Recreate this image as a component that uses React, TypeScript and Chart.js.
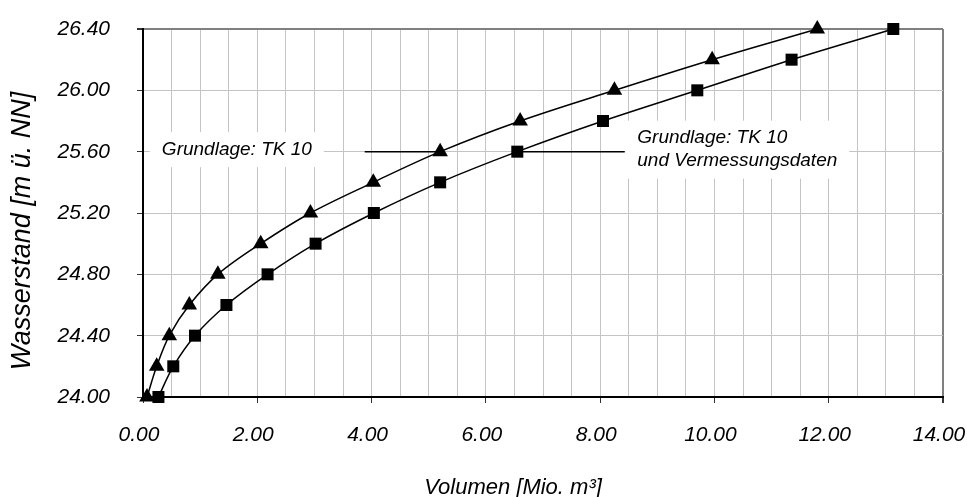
import React, { useEffect, useRef } from 'react';
import { Chart, registerables } from 'chart.js';

Chart.register(...registerables);

// ---- data ----
const waterLevels = [24.0, 24.2, 24.4, 24.6, 24.8, 25.0, 25.2, 25.4, 25.6, 25.8, 26.0, 26.2, 26.4];
const volumeTK10 = [0.07, 0.24, 0.46, 0.81, 1.31, 2.06, 2.93, 4.03, 5.2, 6.6, 8.25, 9.96, 11.8];
const volumeTK10Survey = [0.27, 0.53, 0.91, 1.46, 2.18, 3.02, 4.04, 5.2, 6.55, 8.05, 9.7, 11.35, 13.13];

const seriesNames = ['Grundlage: TK 10', 'Grundlage: TK 10 und Vermessungsdaten'];

const xMin = 0;
const xMax = 14;
const xGridStep = 0.5;
const xLabelStep = 2;
const yMin = 24.0;
const yMax = 26.4;
const yStep = 0.4;

const xTitle = 'Volumen [Mio. m³]';
const yTitle = 'Wasserstand [m ü. NN]';

const annotationTexts = [['Grundlage: TK 10'], ['Grundlage: TK 10', 'und Vermessungsdaten']];
const annotationTextX = [0.33, 8.65];
const annotationLevel = [25.6, 25.6];
const annotationLineFrom = [3.88, 6.55];
const annotationLineTo = [5.2, 8.43];

const FONT = '"Liberation Sans", Arial, sans-serif';

const overlayPlugin = {
  id: 'overlay',
  beforeDatasetsDraw(chart: any) {
    const { ctx } = chart;
    const xs = chart.scales.x;
    const ys = chart.scales.y;
    ctx.save();
    ctx.font = `italic 19px ${FONT}`;
    ctx.textBaseline = 'middle';
    ctx.textAlign = 'left';
    annotationTexts.forEach((lines, i) => {
      const lh = 23;
      const px = xs.getPixelForValue(annotationTextX[i]);
      const py = ys.getPixelForValue(annotationLevel[i]);
      const w = Math.max(...lines.map((l) => ctx.measureText(l).width));
      const h = lines.length * lh;
      const top = py - h / 2 - 2;
      ctx.fillStyle = '#ffffff';
      ctx.fillRect(px - 12, top - 6, w + 24, h + 12);
      ctx.fillStyle = '#000000';
      lines.forEach((l, j) => ctx.fillText(l, px, top + lh * (j + 0.5)));
      ctx.beginPath();
      ctx.moveTo(xs.getPixelForValue(annotationLineFrom[i]), py);
      ctx.lineTo(xs.getPixelForValue(annotationLineTo[i]), py);
      ctx.lineWidth = 1.5;
      ctx.strokeStyle = '#000000';
      ctx.stroke();
    });
    ctx.restore();
  },
  afterDraw(chart: any) {
    const { ctx, chartArea } = chart;
    ctx.save();
    ctx.fillStyle = '#000000';
    ctx.textAlign = 'center';
    ctx.textBaseline = 'middle';
    ctx.font = `italic 22px ${FONT}`;
    ctx.fillText(xTitle, (chartArea.left + chartArea.right) / 2 - 30, chart.height - 9);
    ctx.translate(22, (chartArea.top + chartArea.bottom) / 2 + 18);
    ctx.rotate(-Math.PI / 2);
    ctx.font = `italic 27px ${FONT}`;
    ctx.fillText(yTitle, 0, 0);
    ctx.restore();
  },
};

export default function App() {
  const ref = useRef<HTMLCanvasElement | null>(null);

  useEffect(() => {
    document.body.style.margin = '0';
    const canvas = ref.current;
    if (!canvas) return;
    const tickFont = { family: FONT, size: 21, style: 'italic' as const };
    const chart = new Chart(canvas, {
      type: 'line',
      data: {
        datasets: [
          {
            label: seriesNames[0],
            data: volumeTK10.map((v, i) => ({ x: v, y: waterLevels[i] })),
            borderColor: '#000',
            backgroundColor: '#000',
            borderWidth: 1.5,
            tension: 0.35,
            pointStyle: 'triangle',
            pointRadius: 9,
            pointBorderWidth: 0,
            clip: false as any,
          },
          {
            label: seriesNames[1],
            data: volumeTK10Survey.map((v, i) => ({ x: v, y: waterLevels[i] })),
            borderColor: '#000',
            backgroundColor: '#000',
            borderWidth: 1.5,
            tension: 0.35,
            pointStyle: 'rect',
            pointRadius: 8.5,
            pointBorderWidth: 0,
            clip: false as any,
          },
        ],
      },
      options: {
        animation: false,
        responsive: false,
        layout: { padding: { top: 29, right: 24, left: 0, bottom: 0 } },
        plugins: { legend: { display: false }, tooltip: { enabled: false } },
        scales: {
          x: {
            type: 'linear',
            min: xMin,
            max: xMax,
            ticks: {
              stepSize: xGridStep,
              autoSkip: false,
              maxRotation: 0,
              padding: 20,
              labelOffset: -4,
              color: '#000',
              font: tickFont,
              callback: (v: any) => (Math.abs(Number(v) % xLabelStep) < 1e-6 ? Number(v).toFixed(2) : ''),
            },
            grid: {
              color: (c: any) => (c.tick && Math.abs(c.tick.value - xMax) < 1e-6 ? '#808080' : '#c4c4c4'),
              lineWidth: (c: any) => (c.tick && Math.abs(c.tick.value - xMax) < 1e-6 ? 2 : 1),
              tickColor: (c: any) =>
                c.tick && Math.abs(c.tick.value % xLabelStep) < 1e-6 ? '#333' : 'rgba(0,0,0,0)',
              tickLength: 6,
              drawTicks: true,
            },
            border: { color: '#000', width: 2 },
            afterFit: (s: any) => {
              s.height = 100;
              s.paddingLeft = 0;
              s.paddingRight = 0;
            },
          },
          y: {
            type: 'linear',
            min: yMin,
            max: yMax,
            ticks: {
              stepSize: yStep,
              padding: 27,
              color: '#000',
              font: tickFont,
              callback: (v: any) => Number(v).toFixed(2),
            },
            grid: {
              color: (c: any) => (c.tick && Math.abs(c.tick.value - yMax) < 1e-6 ? '#808080' : '#c4c4c4'),
              lineWidth: (c: any) => (c.tick && Math.abs(c.tick.value - yMax) < 1e-6 ? 2 : 1),
              tickColor: '#333',
              tickLength: 6,
            },
            border: { color: '#000', width: 2 },
            afterFit: (s: any) => {
              s.width = 143;
              s.paddingTop = 0;
              s.paddingBottom = 0;
            },
          },
        },
      },
      plugins: [overlayPlugin],
    });
    return () => chart.destroy();
  }, []);

  return <canvas ref={ref} width={967} height={497} style={{ display: 'block' }} />;
}
